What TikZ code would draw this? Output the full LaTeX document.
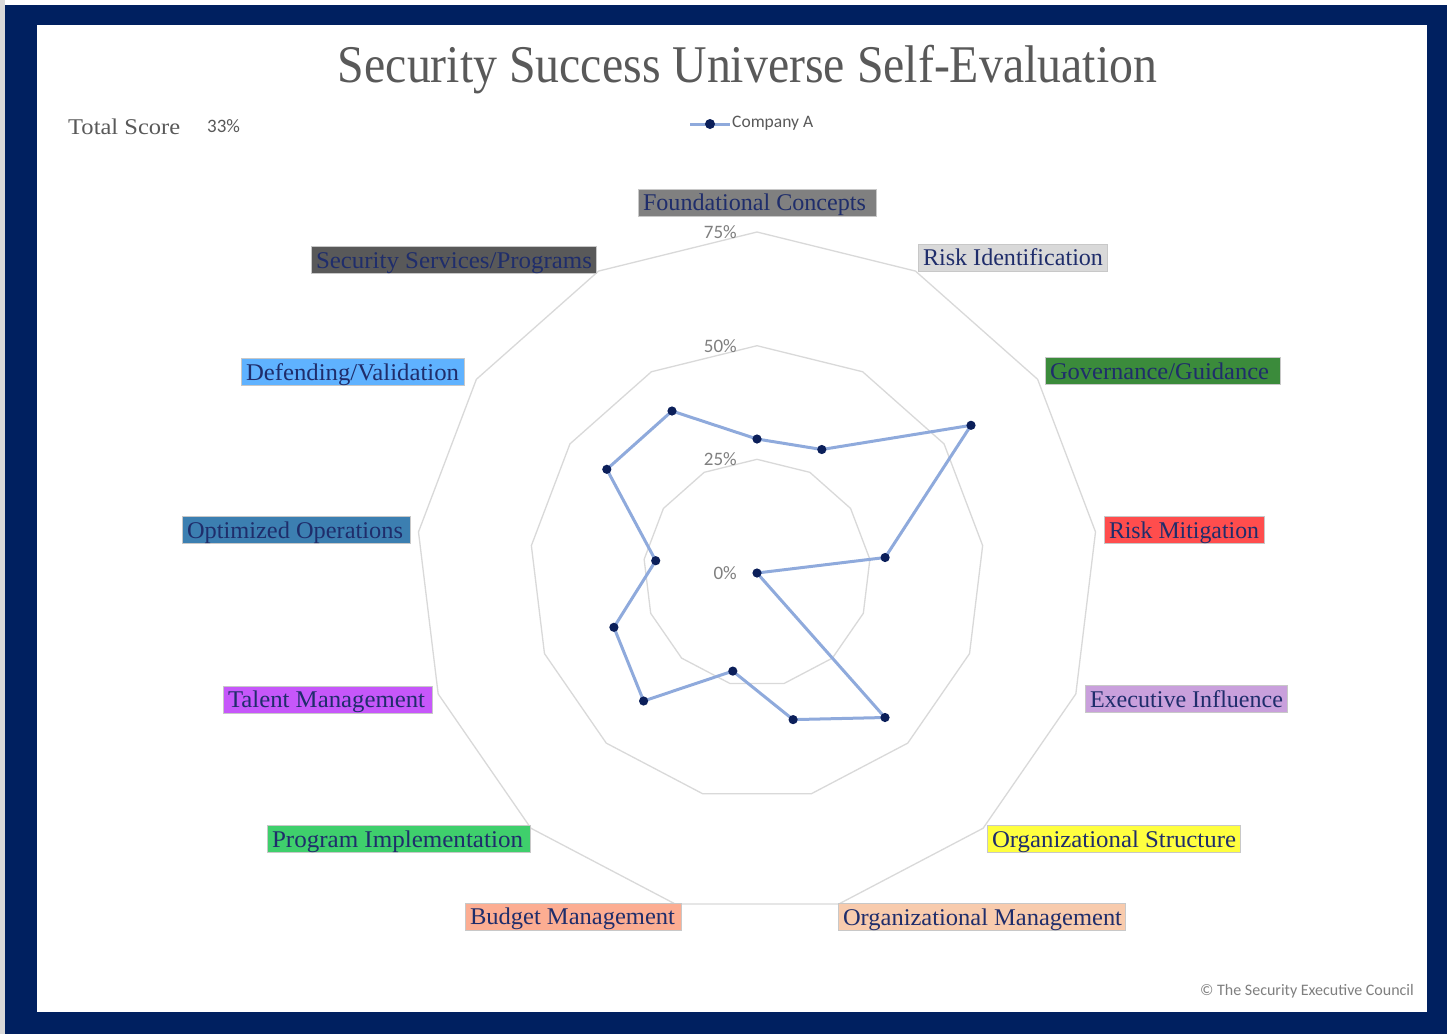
\documentclass[tikz,border=0pt]{standalone}
\usepackage{fontspec}
\usepackage{graphicx}
\setmainfont{Liberation Serif}
\newfontfamily\carl{Carlito}
\definecolor{navy}{HTML}{002060}
\definecolor{titlegray}{HTML}{595959}
\definecolor{tickgray}{HTML}{7F7F7F}
\definecolor{gridgray}{HTML}{D9D9D9}
\definecolor{serieblue}{HTML}{8FAADC}
\definecolor{dotnavy}{HTML}{0B1F5A}
\definecolor{labtext}{HTML}{1F2D6B}
\definecolor{labborder}{HTML}{C8C8C8}
\definecolor{cFC}{HTML}{808080}
\definecolor{cRI}{HTML}{D9D9D9}
\definecolor{cGG}{HTML}{3B8B3B}
\definecolor{cRM}{HTML}{FF4D4D}
\definecolor{cEI}{HTML}{C9A0DC}
\definecolor{cOS}{HTML}{FFFF3F}
\definecolor{cOM}{HTML}{F8CBAD}
\definecolor{cBM}{HTML}{FCAD92}
\definecolor{cPI}{HTML}{3FCF6C}
\definecolor{cTM}{HTML}{C657FA}
\definecolor{cOO}{HTML}{3C7FB1}
\definecolor{cDV}{HTML}{5FB2FF}
\definecolor{cSS}{HTML}{595959}
\newcommand{\mylab}[7]{%
  \node[lab, fill=#6, minimum width=#4pt] (#7) at (#2,#3)
    {\makebox[\dimexpr#4pt-10pt\relax][l]{\resizebox{#5pt}{\height}{#1}}};}
\begin{document}
\begin{tikzpicture}[x=1pt,y=-1pt,
  lab/.style={draw=labborder, line width=0.8pt, inner xsep=5pt, inner ysep=0pt,
    minimum height=27pt, text height=19pt, text depth=3pt, text=labtext,
    font=\fontsize{24}{26}\selectfont},
  gridline/.style={draw=gridgray, line width=1.3pt},
  dataline/.style={draw=serieblue, line width=3pt, line join=round},
  datadot/.style={fill=dotnavy},
  ticklab/.style={anchor=east, inner sep=0pt, text=tickgray, font=\carl\fontsize{19}{22}\selectfont}]
\useasboundingbox (0,0) rectangle (1447,1034);
\fill[white] (0,0) rectangle (1447,1034);
\fill[gridgray] (0,0) rectangle (5,1034);
\fill[navy] (5,5) rectangle (1447,1034);
\fill[white] (37,25) rectangle (1427,1012);

% title and header
\node[anchor=base, inner sep=0pt, text=titlegray] (title) at (747.5,82)
  {\resizebox{819pt}{\height}{\fontsize{53}{60}\selectfont Security Success Universe Self-Evaluation}};
\node[anchor=base west, inner sep=0pt, text=titlegray] (ts) at (68,134)
  {\resizebox{112pt}{\height}{\fontsize{22.5}{26}\selectfont Total Score}};
\node[anchor=base west, inner sep=0pt, text=titlegray] (tsv) at (207,132)
  {\carl\fontsize{19}{22}\selectfont 33\%};

% legend
\coordinate (lgA) at (690,124);
\coordinate (lgB) at (730,124);
\coordinate (lgM) at (710,124);
\draw[dataline] (lgA) -- (lgB);
\fill[datadot] (lgM) circle (5);
\node[anchor=west, inner sep=0pt, text=titlegray] (lgT) at (732,123)
  {\carl\fontsize{17.5}{20}\selectfont Company A};

% radar grid
\begin{scope}[shift={(757,573)}]
  \foreach \r in {113.7,227.3,341} {
    \draw[gridline] (-90:\r) \foreach \k in {1,...,12} { -- ({-90+\k*360/13}:\r) } -- cycle;
  }
  \coordinate (d0) at (0,-134);
  \coordinate (d1) at (64.8,-123.5);
  \coordinate (d2) at (214.0,-147.7);
  \coordinate (d3) at (128.1,-15.5);
  \coordinate (d4) at (0,0);
  \coordinate (d5) at (128.0,144.5);
  \coordinate (d6) at (36.1,146.6);
  \coordinate (d7) at (-24.2,98.1);
  \coordinate (d8) at (-113.4,128.0);
  \coordinate (d9) at (-143.1,54.3);
  \coordinate (d10) at (-101.3,-12.3);
  \coordinate (d11) at (-150.2,-103.7);
  \coordinate (d12) at (-85.0,-162.0);
  \draw[dataline] (d0) -- (d1) -- (d2) -- (d3) -- (d4) -- (d5) -- (d6) -- (d7) -- (d8) -- (d9) -- (d10) -- (d11) -- (d12) -- cycle;
  \foreach \k in {0,...,12} { \fill[datadot] (d\k) circle (4.6); }
\end{scope}

% tick labels
\node[ticklab] (t75) at (737,232) {75\%};
\node[ticklab] (t50) at (737,346) {50\%};
\node[ticklab] (t25) at (737,459) {25\%};
\node[ticklab] (t0) at (737,573) {0\%};

% category labels
\mylab{Foundational Concepts}{757}{202.5}{238}{223}{cFC}{lFC}
\mylab{Risk Identification}{1012.5}{257.5}{189}{180}{cRI}{lRI}
\mylab{Governance/Guidance}{1162.5}{371}{235}{219}{cGG}{lGG}
\mylab{Risk Mitigation}{1184}{530}{160}{150}{cRM}{lRM}
\mylab{Executive Influence}{1186}{699}{202}{193}{cEI}{lEI}
\mylab{Organizational Structure}{1113.5}{839}{253}{244}{cOS}{lOS}
\mylab{Organizational Management}{981.5}{917}{287}{279}{cOM}{lOM}
\mylab{Budget Management}{573}{916.5}{216}{205}{cBM}{lBM}
\mylab{Program Implementation}{398.5}{839}{263}{251}{cPI}{lPI}
\mylab{Talent Management}{327.5}{699.5}{209}{197}{cTM}{lTM}
\mylab{Optimized Operations}{296}{530}{228}{216}{cOO}{lOO}
\mylab{Defending/Validation}{352.5}{372}{223}{213}{cDV}{lDV}
\mylab{Security Services/Programs}{453.5}{260}{285}{276}{cSS}{lSS}

% copyright
\node[anchor=base east, inner sep=0pt, text=tickgray] (copy) at (1414,995)
  {\carl\fontsize{16}{18}\selectfont © The Security Executive Council};
\end{tikzpicture}
\end{document}
